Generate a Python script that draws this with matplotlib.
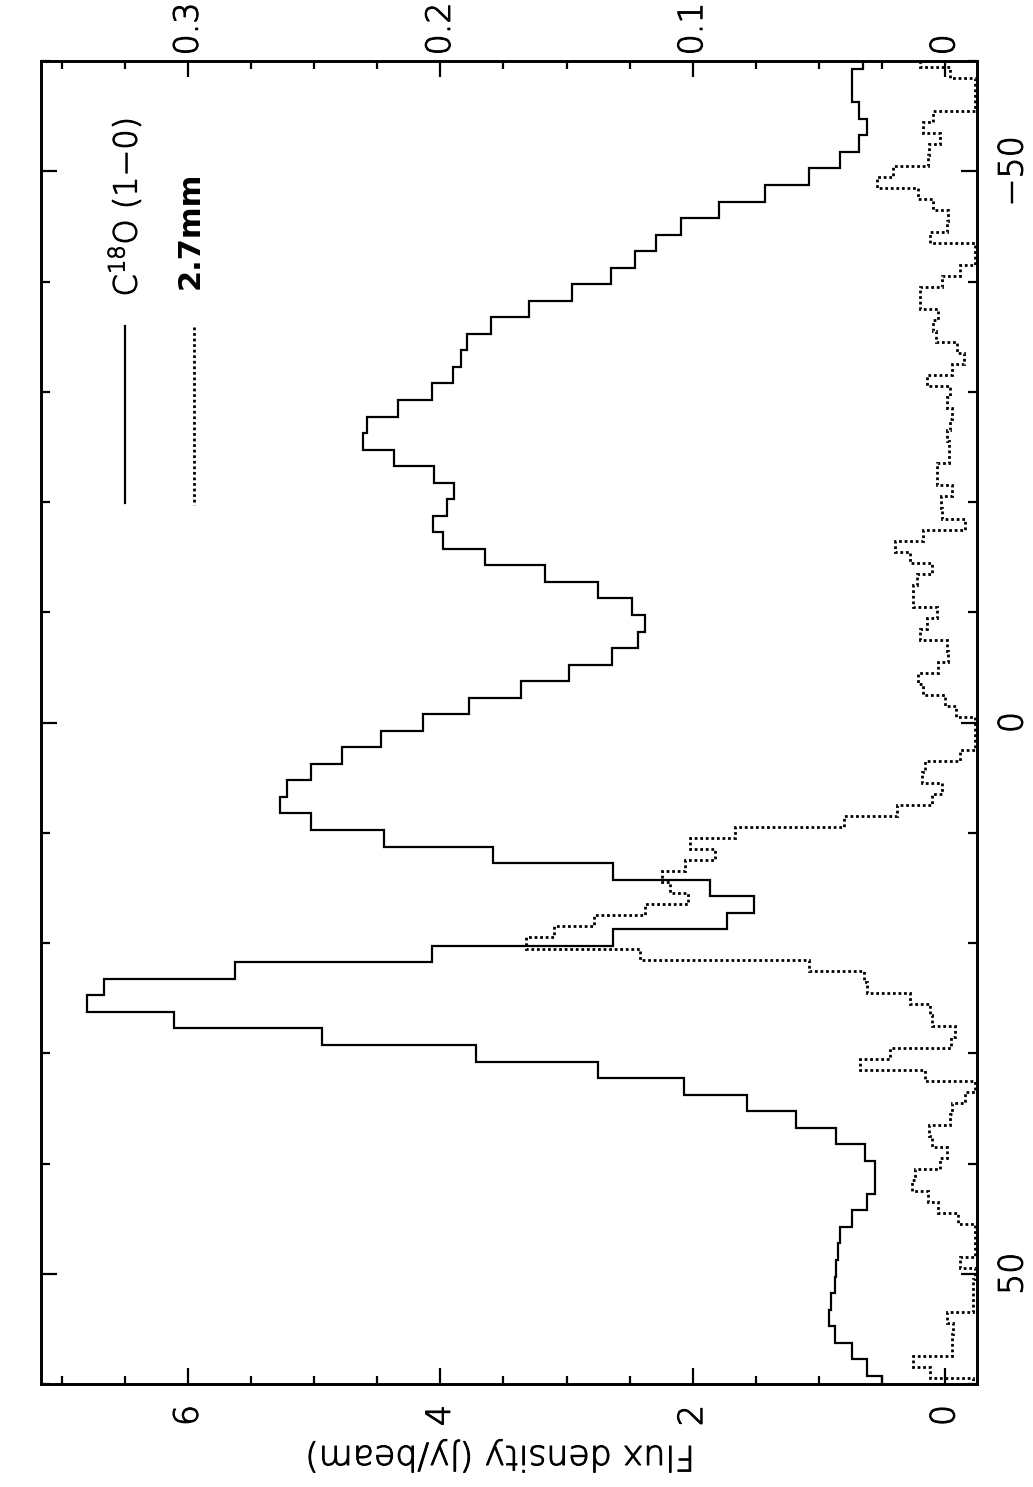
import numpy as np
import matplotlib
matplotlib.use("Agg")
import matplotlib.pyplot as plt
import matplotlib.patheffects as pe
from matplotlib.ticker import FixedLocator, MultipleLocator, FixedFormatter
from matplotlib.lines import Line2D

# ---------------- data ----------------
# C18O (1-0) spectrum, channel width 1.5 km/s, centres from -60 to 60 km/s
v_c18o = np.arange(-60.0, 60.01, 1.5)
flux_c18o = [0.65, 0.74, 0.74, 0.68, 0.62, 0.68, 0.83, 1.08, 1.43, 1.79,
             2.09, 2.29, 2.46, 2.65, 2.96, 3.30, 3.60, 3.79, 3.84, 3.90,
             4.07, 4.34, 4.58, 4.61, 4.37, 4.05, 3.89, 3.95, 4.06, 3.98,
             3.65, 3.17, 2.75, 2.48, 2.38, 2.43, 2.64, 2.98, 3.36, 3.77,
             4.14, 4.47, 4.78, 5.03, 5.22, 5.27, 5.03, 4.45, 3.58, 2.63,
             1.86, 1.51, 1.73, 2.63, 4.07, 5.63, 6.67, 6.80, 6.11, 4.94,
             3.72, 2.75, 2.07, 1.57, 1.18, 0.86, 0.63, 0.55, 0.55, 0.62,
             0.74, 0.83, 0.85, 0.86, 0.87, 0.90, 0.92, 0.87, 0.74, 0.62,
             0.50]

# 2.7mm spectrum, channel width 1 km/s, centres from -60 to 60 km/s
v_cont = np.arange(-60.0, 60.01, 1.0)
flux_cont = [0.0098, -0.0020, -0.0120, -0.0120, -0.0120, 0.0045, 0.0085, 0.0019, 0.0062, 0.0065,
             0.0204, 0.0270, 0.0105, 0.0045, -0.0014, -0.0007, 0.0059, -0.0120, -0.0120, -0.0060,
             0.0012, 0.0098, 0.0098, 0.0026, 0.0045, 0.0035, -0.0047, -0.0074, -0.0027, 0.0072,
             -0.0020, -0.0007, -0.0027, -0.0020, -0.0008, -0.0018, -0.0018, 0.0030, 0.0030, -0.0027,
             0.0016, 0.0012, -0.0080, 0.0085, 0.0197, 0.0138, 0.0052, 0.0110, 0.0125, 0.0125,
             0.0032, 0.0072, 0.0098, -0.0007, -0.0014, 0.0026, 0.0105, 0.0085, 0.0000, -0.0045,
             -0.0120, -0.0120, -0.0120, -0.0060, 0.0080, 0.0090, 0.0010, 0.0050, 0.0190, 0.0400,
             0.0830, 0.1010, 0.0910, 0.1030, 0.1120, 0.1090, 0.1020, 0.1190, 0.1390, 0.1550,
             0.1660, 0.1210, 0.0540, 0.0320, 0.0310, 0.0140, 0.0060, 0.0052, -0.0040, -0.0025,
             0.0217, 0.0336, 0.0078, -0.0120, -0.0080, -0.0027, -0.0020, 0.0062, 0.0052, -0.0007,
             0.0019, 0.0118, 0.0132, 0.0065, 0.0026, -0.0054, -0.0120, -0.0120, -0.0120, -0.0060,
             -0.0120, -0.0113, -0.0113, -0.0113, -0.0007, -0.0034, -0.0027, -0.0027, 0.0125, 0.0059,
             -0.0113]

flux_ticks = [0, 2, 4, 6]
flux_labels = ["0", "2", "4", "6"]
cont_ticks = [0, 0.1, 0.2, 0.3]
cont_labels = ["0", "0.1", "0.2", "0.3"]
vel_ticks = [-50, 0, 50]
vel_labels = ["\u221250", "0", "50"]
legend_labels = ["C$^{18}$O (1\u22120)", "2.7mm"]
xlabel_text = "Flux density (Jy/beam)"

# ---------------- figure ----------------
plt.rcParams['font.family'] = ['DejaVu Sans']
plt.rcParams['font.weight'] = 'light'
plt.rcParams['axes.labelweight'] = 'light'
plt.rcParams['mathtext.fontset'] = 'dejavusans'

W, H = 1033, 1487
fig = plt.figure(figsize=(W / 100, H / 100), dpi=100)
ax = fig.add_axes([41 / W, 1 - 1384 / H, 936 / W, 1323 / H])

def edges(c, w):
    c = np.asarray(c, dtype=float)
    return np.concatenate([c - w / 2, [c[-1] + w / 2]])

ax.stairs(flux_c18o, edges(v_c18o, 1.5), orientation='horizontal',
          baseline=None, color='black', lw=1.6)
ax.set_xlim(7.167, -0.255)
ax.set_ylim(60, -60)

ax2 = ax.twiny()
ax2.stairs(flux_cont, edges(v_cont, 1.0), orientation='horizontal',
           baseline=None, color='black', lw=2.0, linestyle=(0, (1, 1)))
ax2.set_xlim(7.167 / 20, -0.255 / 20)
ax2.set_ylim(60, -60)

for sp in list(ax.spines.values()) + list(ax2.spines.values()):
    sp.set_linewidth(1.9)

FS = 24
thick = [pe.withStroke(linewidth=0.75, foreground='black')]

# flux axis (bottom)
ax.xaxis.set_major_locator(FixedLocator(flux_ticks))
ax.xaxis.set_major_formatter(FixedFormatter(flux_labels))
ax.xaxis.set_minor_locator(MultipleLocator(0.5))
ax.tick_params(axis='x', which='both', direction='in', bottom=True, top=False,
               labelbottom=True, labeltop=False, width=1.6, labelsize=FS,
               labelrotation=90, pad=15)
ax.tick_params(axis='x', which='major', length=11.5)
ax.tick_params(axis='x', which='minor', length=6)

# velocity axis (left/right)
ax.yaxis.set_major_locator(FixedLocator(vel_ticks))
ax.yaxis.set_major_formatter(FixedFormatter(vel_labels))
ax.yaxis.set_minor_locator(MultipleLocator(10))
ax.tick_params(axis='y', which='both', direction='in', left=True, right=True,
               labelleft=False, labelright=True, width=1.6, labelsize=FS,
               labelrotation=90, pad=14)
ax.tick_params(axis='y', which='major', length=11.5)
ax.tick_params(axis='y', which='minor', length=6.5)
for t in ax.get_yticklabels():
    t.set_verticalalignment('center')

# continuum axis (top)
ax2.xaxis.set_major_locator(FixedLocator(cont_ticks))
ax2.xaxis.set_major_formatter(FixedFormatter(cont_labels))
ax2.xaxis.set_minor_locator(MultipleLocator(0.025))
ax2.tick_params(axis='x', which='both', direction='in', bottom=False, top=True,
                labelbottom=False, labeltop=True, width=1.6, labelsize=FS,
                labelrotation=90, pad=4)
ax2.tick_params(axis='x', which='major', length=11.5)
ax2.tick_params(axis='x', which='minor', length=6)

for t in ax.get_xticklabels() + ax.get_yticklabels() + ax2.get_xticklabels():
    t.set_path_effects(thick)

ax.set_xlabel(xlabel_text, rotation=180, fontsize=25, fontweight='light',
              va='center', ha='center')
ax.xaxis.label.set_path_effects(thick)
ax.xaxis.set_label_coords((500 - 41) / 936, -(1456 - 1384) / 1323)

# legend (drawn by hand, rotated like the plot)
ax.add_line(Line2D([0.0897, 0.0897], [0.7997, 0.6659], transform=ax.transAxes,
                   color='black', lw=1.6))
ax.add_line(Line2D([0.1635, 0.1635], [0.7990, 0.6644], transform=ax.transAxes,
                   color='black', lw=2.0, linestyle=(0, (1, 1))))
ax.text(0.0897, 0.822, legend_labels[0], transform=ax.transAxes, rotation=90,
        ha='center', va='bottom', fontsize=23, path_effects=thick)
ax.text(0.159, 0.828, legend_labels[1], transform=ax.transAxes, rotation=90,
        ha='center', va='bottom', fontsize=22, fontweight='bold')

fig.savefig("out.png", dpi=100)
